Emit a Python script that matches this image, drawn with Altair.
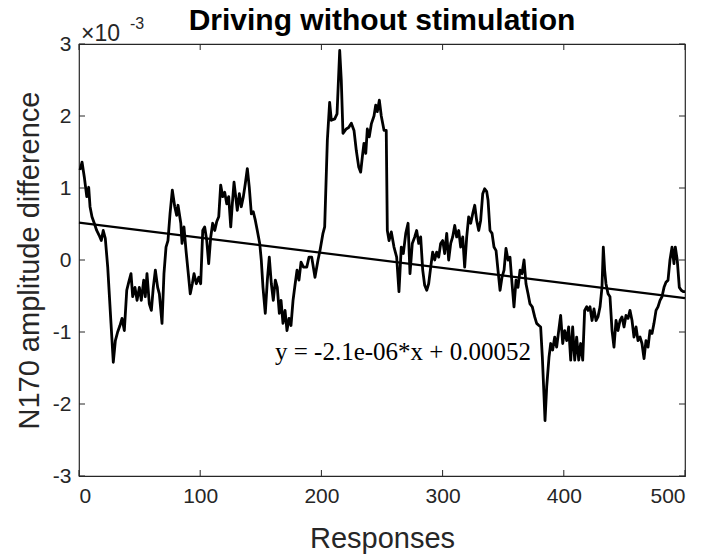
import altair as alt
import pandas as pd

# Responses (x) and N170 amplitude difference in units of 1e-3
x_resp = [0.8, 2.5, 4.4, 6.4, 8.0, 9.1, 10.7, 12.6, 14.6, 16.7, 18.4, 20.0, 21.7, 23.7, 26.4, 28.3, 30.0, 31.9, 33.8, 35.5,
          37.4, 39.4, 41.0, 42.9, 44.3, 46.2, 47.9, 49.8, 51.4, 53.4, 54.7, 56.1, 58.0, 59.7, 61.3, 63.0, 64.9, 66.3, 68.5, 70.1,
          71.8, 73.4, 75.1, 77.0, 79.0, 80.6, 81.7, 84.0, 85.0, 86.6, 88.3, 89.9, 91.8, 93.5, 94.9, 96.8, 98.8, 100.4, 102.1, 103.7,
          105.4, 107.0, 108.7, 110.3, 112.0, 113.6, 115.3, 116.9, 118.6, 120.2, 121.9, 123.5, 125.2, 126.5, 127.9, 129.3, 130.6, 132.3, 133.9, 135.6,
          137.2, 138.9, 140.5, 142.2, 143.8, 145.5, 147.1, 149.1, 150.4, 151.8, 153.7, 155.4, 157.0, 158.7, 160.3, 162.0, 163.6, 165.3, 166.7, 168.3,
          170.0, 171.6, 173.3, 174.9, 176.6, 178.2, 179.9, 181.5, 183.2, 185.2, 187.9, 189.8, 192.0, 194.7, 197.2, 198.8, 201.3, 202.7, 204.9, 206.8,
          208.2, 211.0, 212.9, 215.1, 216.4, 217.8, 220.5, 222.5, 224.7, 226.9, 228.8, 230.8, 232.4, 234.1, 235.1, 236.6, 237.9, 239.5, 241.2, 243.4,
          244.8, 246.1, 247.8, 249.4, 251.7, 253.5, 254.4, 255.8, 257.7, 259.9, 262.1, 264.0, 265.9, 267.6, 269.6, 271.5, 273.1, 275.0, 277.0, 278.6,
          280.3, 281.9, 283.6, 285.2, 286.9, 288.5, 290.2, 291.8, 293.5, 295.1, 296.8, 298.4, 300.1, 301.7, 303.4, 305.0, 306.7, 308.3, 310.0, 311.6,
          313.3, 314.9, 316.6, 318.2, 319.9, 321.5, 323.2, 324.8, 326.5, 328.1, 329.8, 331.4, 333.1, 334.7, 336.4, 337.5, 339.1, 340.8, 342.4, 344.1,
          345.7, 347.4, 349.0, 350.7, 352.3, 354.0, 355.6, 357.3, 358.9, 360.6, 362.2, 363.9, 365.5, 367.2, 368.8, 370.5, 372.1, 374.0, 376.0, 377.6,
          379.5, 380.9, 382.3, 383.7, 384.5, 385.9, 387.8, 389.2, 390.8, 392.5, 394.1, 395.8, 397.4, 399.1, 400.7, 402.4, 404.0, 405.7, 407.3, 409.0,
          410.6, 412.3, 413.9, 415.6, 417.2, 418.9, 420.0, 421.6, 423.3, 424.9, 426.6, 428.2, 429.9, 431.5, 432.6, 433.7, 434.8, 436.5, 438.1, 439.8,
          441.4, 443.1, 444.7, 446.4, 448.0, 449.7, 451.3, 453.0, 454.6, 456.3, 457.9, 459.6, 461.2, 462.9, 464.5, 466.2, 467.8, 469.5, 471.1, 472.8,
          474.4, 476.1, 477.7, 479.4, 481.0, 482.7, 484.3, 486.0, 487.6, 489.3, 490.9, 492.0, 493.6, 495.3, 496.9, 498.6, 500.0]
amp_e3 = [1.25, 1.36, 1.15, 0.88, 1.01, 0.74, 0.60, 0.51, 0.41, 0.34, 0.27, 0.41, 0.30, -0.10, -0.88, -1.42, -1.12, -1.00, -0.91, -0.81,
          -0.98, -0.42, -0.31, -0.19, -0.51, -0.38, -0.56, -0.38, -0.56, -0.28, -0.51, -0.19, -0.61, -0.70, -0.38, -0.14, -0.38, -0.47, -0.88, -0.19,
          0.18, 0.27, 0.64, 0.97, 0.74, 0.62, 0.76, 0.51, 0.23, 0.46, 0.13, -0.14, -0.47, -0.33, -0.19, -0.33, -0.24, -0.33, 0.41, 0.46,
          0.27, -0.05, 0.32, 0.51, 0.41, 0.53, 0.60, 1.04, 0.88, 0.94, 0.78, 0.88, 0.46, 0.78, 1.08, 0.88, 0.69, 0.92, 0.74, 0.88,
          1.06, 1.27, 1.01, 0.64, 0.67, 0.55, 0.41, 0.23, 0.00, -0.38, -0.74, -0.28, 0.04, -0.33, -0.56, -0.28, -0.38, -0.74, -0.56, -0.88,
          -0.70, -0.98, -0.81, -0.91, -0.56, -0.35, -0.14, -0.28, -0.03, -0.10, -0.10, 0.04, 0.04, -0.24, 0.00, 0.13, 0.37, 0.46, 1.66, 2.19,
          1.94, 1.96, 2.03, 2.91, 2.50, 1.76, 1.82, 1.84, 1.90, 1.80, 1.52, 1.29, 1.22, 1.48, 1.62, 1.48, 1.82, 1.71, 1.89, 2.00,
          2.15, 2.06, 2.22, 2.00, 1.80, 1.80, 0.41, 0.27, 0.39, 0.18, 0.04, -0.44, 0.18, 0.09, 0.37, 0.51, -0.19, 0.23, 0.32, 0.41,
          0.23, 0.32, -0.14, -0.35, -0.42, -0.33, -0.10, 0.11, 0.00, 0.11, 0.04, 0.23, 0.27, 0.09, 0.37, 0.00, 0.23, 0.32, 0.48, 0.32,
          0.41, 0.18, 0.32, -0.10, 0.32, 0.60, 0.51, 0.64, 0.76, 0.55, 0.41, 0.55, 0.92, 0.99, 0.95, 0.83, 0.41, 0.37, 0.18, 0.13,
          -0.14, -0.42, -0.24, -0.14, 0.16, 0.00, 0.04, -0.33, -0.65, -0.28, -0.38, -0.14, -0.19, 0.00, -0.33, -0.47, -0.61, -0.65, -0.79, -0.88,
          -0.91, -0.93, -1.35, -1.90, -2.23, -1.76, -1.35, -1.16, -1.25, -1.07, -1.21, -0.98, -0.77, -1.16, -0.98, -1.12, -0.93, -1.39, -0.93, -1.39,
          -1.07, -1.39, -1.16, -1.39, -0.70, -0.65, -0.70, -0.65, -0.84, -0.68, -0.84, -0.79, -0.65, -0.38, 0.18, -0.14, -0.33, -0.47, -0.51, -0.98,
          -1.21, -0.84, -0.98, -0.84, -0.79, -0.93, -0.77, -0.81, -0.70, -0.84, -1.07, -0.93, -1.12, -1.07, -1.16, -1.37, -1.12, -1.21, -0.98, -1.02,
          -0.88, -0.70, -0.65, -0.56, -0.51, -0.38, -0.31, -0.28, 0.00, 0.18, -0.05, 0.18, 0.00, -0.38, -0.42, -0.44, -0.44]

# Linear fit shown in the figure: y = -2.1e-06*x + 0.00052 (plotted in units of 1e-3)
fit_slope_e3 = -0.0021
fit_intercept_e3 = 0.52
fit_x = [0, 500]
fit_y = [fit_intercept_e3 + fit_slope_e3 * v for v in fit_x]

x_ticks = [0, 100, 200, 300, 400, 500]
y_ticks = [-3, -2, -1, 0, 1, 2, 3]

title_text = ["Driving without stimulation"]
equation_text = ["y = -2.1e-06*x + 0.00052"]
equation_x = [161.7]
equation_y = [-1.28]

W, H = 606, 432
AX = "#262626"
SANS = "Liberation Sans"

df = pd.DataFrame({"x": x_resp, "y": amp_e3})
fit_df = pd.DataFrame({"x": fit_x, "y": fit_y})
xt_df = pd.DataFrame({"t": x_ticks})
yt_df = pd.DataFrame({"t": y_ticks})
eq_df = pd.DataFrame({"label": equation_text, "x": equation_x, "y": equation_y})

xscale = alt.Scale(domain=[0, 500], nice=False, zero=False)
yscale = alt.Scale(domain=[-3, 3], nice=False, zero=False)

xaxis = alt.Axis(values=x_ticks, ticks=False, domain=False, grid=False,
                 labelFontSize=21, labelColor=AX, labelFont=SANS, labelPadding=9,
                 labelExpr="toString(datum.value)",
                 title="Responses", titleFontSize=29, titleFont=SANS, titleColor=AX,
                 titleFontWeight="normal", titleX=W / 2, titleY=62, titleBaseline="middle",
                 titleAlign="center")
yaxis = alt.Axis(values=y_ticks, ticks=False, domain=False, grid=False,
                 labelFontSize=21, labelColor=AX, labelFont=SANS, labelPadding=8,
                 labelExpr="toString(datum.value)",
                 title="N170 amplitude difference", titleFontSize=29, titleFont=SANS,
                 titleColor=AX, titleFontWeight="normal", titleX=-50, titleY=H / 2,
                 titleAngle=-90, titleBaseline="middle", titleAlign="center")

data_line = alt.Chart(df).mark_line(color="black", strokeWidth=2.8, strokeJoin="round").encode(
    x=alt.X("x:Q", scale=xscale, axis=xaxis),
    y=alt.Y("y:Q", scale=yscale, axis=yaxis),
)

fit_line = alt.Chart(fit_df).mark_line(color="black", strokeWidth=2.2).encode(
    x=alt.X("x:Q", scale=xscale),
    y=alt.Y("y:Q", scale=yscale),
)

tick_len = 6
xt_bottom = alt.Chart(xt_df).mark_rule(color=AX, strokeWidth=1).encode(
    x=alt.X("t:Q", scale=xscale), y=alt.value(H), y2=alt.value(H - tick_len))
xt_top = alt.Chart(xt_df).mark_rule(color=AX, strokeWidth=1).encode(
    x=alt.X("t:Q", scale=xscale), y=alt.value(0), y2=alt.value(tick_len))
yt_left = alt.Chart(yt_df).mark_rule(color=AX, strokeWidth=1).encode(
    y=alt.Y("t:Q", scale=yscale), x=alt.value(0), x2=alt.value(tick_len))
yt_right = alt.Chart(yt_df).mark_rule(color=AX, strokeWidth=1).encode(
    y=alt.Y("t:Q", scale=yscale), x=alt.value(W), x2=alt.value(W - tick_len))

eq = alt.Chart(eq_df).mark_text(font="Liberation Serif", fontSize=25, align="left",
                                baseline="middle", color="black").encode(
    x=alt.X("x:Q", scale=xscale), y=alt.Y("y:Q", scale=yscale), text="label:N")

title_mark = alt.Chart(pd.DataFrame({"s": title_text})).mark_text(
    font=SANS, fontSize=30, fontWeight="bold", align="center", baseline="alphabetic",
    color="black").encode(x=alt.value(W / 2), y=alt.value(-14), text="s:N")

exp_base = alt.Chart(pd.DataFrame({"s": ["\u00d710"]})).mark_text(
    font=SANS, fontSize=23, align="left", baseline="middle", color=AX).encode(
    x=alt.value(2), y=alt.value(-10), text="s:N")
exp_sup = alt.Chart(pd.DataFrame({"s": ["-3"]})).mark_text(
    font=SANS, fontSize=16, align="left", baseline="middle", color=AX).encode(
    x=alt.value(51), y=alt.value(-20), text="s:N")

chart = alt.layer(
    data_line, fit_line, xt_bottom, xt_top, yt_left, yt_right, eq, title_mark, exp_base, exp_sup
).properties(
    width=W, height=H,
    autosize=alt.AutoSizeParams(type="none"),
    padding={"left": 79, "top": 44, "right": 20, "bottom": 80},
    background="white",
).configure_view(stroke=AX, strokeWidth=1.2)

chart.save("out.html", embed_options={"renderer": "svg", "actions": False})
